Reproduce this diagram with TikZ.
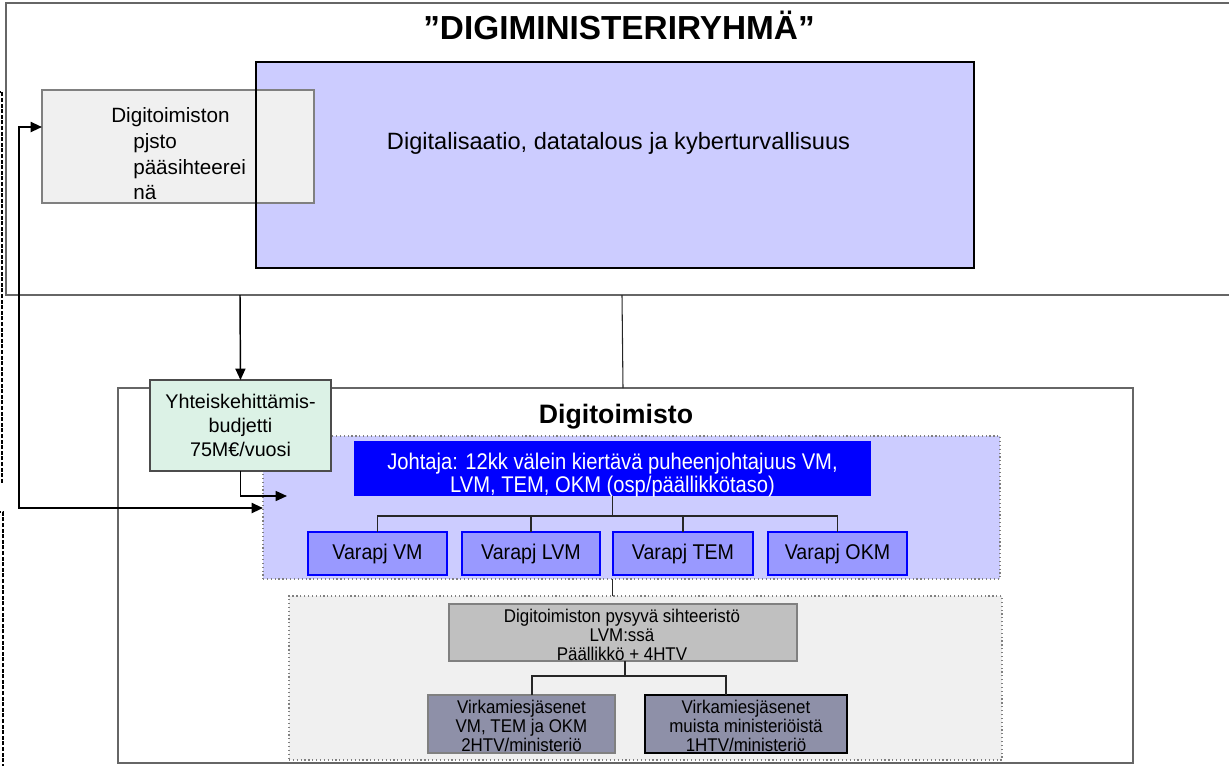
\documentclass[tikz,border=0pt]{standalone}
\usepackage{fontspec}
\setmainfont{Liberation Sans}
\newfontfamily\narrowa[FakeStretch=0.89]{Liberation Sans}
\newfontfamily\narrowb[FakeStretch=0.92]{Liberation Sans}
\usetikzlibrary{arrows.meta,calc,fit}
\definecolor{purp}{HTML}{CCCCFF}
\definecolor{lightgray}{HTML}{F0F0F0}
\definecolor{framegray}{HTML}{666666}
\definecolor{bordergray}{HTML}{808080}
\definecolor{mint}{HTML}{DCF2E6}
\definecolor{vblue}{HTML}{9999FF}
\definecolor{sihgray}{HTML}{C0C0C0}
\definecolor{slate}{HTML}{8E90A8}
\tikzset{
  fitbox/.style={inner sep=0pt, outer sep=0pt, rectangle},
  frame/.style={fitbox, draw=framegray, line width=1.5pt},
  arr/.style={-{Triangle[length=8.5pt,width=7.5pt]}, line width=1.1pt, black},
  arrboth/.style={{Triangle[length=8.5pt,width=7.5pt]}-{Triangle[length=8.5pt,width=7.5pt]}, line width=1.5pt, black},
  treeline/.style={line width=0.8pt, black!85},
  dotbox/.style={fitbox, draw=bordergray, dotted, line width=0.9pt},
  varbox/.style={fitbox, fill=vblue, draw=blue, line width=0.8pt, minimum height=32.25pt,
                 font=\narrowb\fontsize{16pt}{19pt}\selectfont},
  lowtext/.style={font=\narrowb\fontsize{13.8pt}{14.25pt}\selectfont, align=center},
  gbtext/.style={anchor=base west, inner sep=0pt, font=\fontsize{15.5pt}{18pt}\selectfont},
  dashedge/.style={draw=black, line width=1.2pt, dash pattern=on 3pt off 1.2pt}
}
\begin{document}
\begin{tikzpicture}[x=0.75pt,y=-0.75pt]
\useasboundingbox (0,0) rectangle (1229,765);
\clip (0,0) rectangle (1229,765);

% left dashed edges (boxes cut off at the left)
\draw[dashedge] (-40,92) rectangle (2,482);
\draw[dashedge] (-40,512) rectangle (3,820);

% top frame
\node[frame, fit={(6,3) (1240,295)}] (dmr) {};
\node[anchor=base, font=\bfseries\fontsize{25pt}{30pt}\selectfont] (title) at (619,39) {”DIGIMINISTERIRYHMÄ”};

% purple box and grey box
\node[fitbox, fill=purp, fit={(256,62) (974,268)}] (dk) {};
\node[anchor=base, font=\fontsize{17.7pt}{21pt}\selectfont] (dktext) at (618.5,149) {Digitalisaatio, datatalous ja kyberturvallisuus};
\node[fitbox, fill=lightgray, draw=bordergray, line width=0.8pt, fit={(42,90) (314,203)}] (gb) {};
\draw[line width=1.1pt] (dk.north west) rectangle (dk.south east);
\node[gbtext] (gb1) at (111,122) {Digitoimiston};
\node[gbtext] (gb2) at (133,148) {pjsto};
\node[gbtext] (gb3) at (133,174) {pääsihteerei};
\node[gbtext] (gb4) at (133,199) {nä};

% Digitoimisto frame
\node[frame, fit={(118,388) (1133,763)}] (dof) {};
\node[anchor=base, font=\bfseries\fontsize{20pt}{24pt}\selectfont] (doftitle) at (616,423) {Digitoimisto};

% leadership area
\node[dotbox, fill=purp, fit={(263,436) (1000,579)}] (pb) {};
\node[fitbox, fill=blue, fit={(354,441) (871,496)}] (bl) {};
\node[text=white, align=center, font=\narrowa\fontsize{17pt}{17.25pt}\selectfont] (bltext) at (612.5,475)
  {Johtaja: 12kk välein kiertävä puheenjohtajuus VM,\\LVM, TEM, OKM (osp/päällikkötaso)};

% budget box (drawn over the frames)
\node[fitbox, fill=mint, draw=black!70, line width=0.8pt, minimum width=135.75pt, minimum height=68.25pt,
      align=center, font=\fontsize{14.8pt}{18pt}\selectfont] (gr) at (240.5,425.5) {Yhteiskehittämis-\\budjetti\\75M€/vuosi};

\node[varbox, minimum width=104.25pt] (vm) at (377.5,553.5) {Varapj VM};
\node[varbox, minimum width=103.5pt] (lvm) at (531,553.5) {Varapj LVM};
\node[varbox, minimum width=105pt] (tem) at (683,553.5) {Varapj TEM};
\node[varbox, minimum width=104.25pt] (okm) at (837.5,553.5) {Varapj OKM};

\coordinate (j1) at (612.5,516);
\draw[treeline] (bl.south) -- (j1);
\draw[treeline] (vm.north) |- (j1) -| (okm.north);
\draw[treeline] (lvm.north) -- (lvm.north |- j1);
\draw[treeline] (tem.north) -- (tem.north |- j1);

% secretariat area
\node[dotbox, fill=lightgray, fit={(289,596) (1002,760)}] (lb) {};
\node[fitbox, fill=sihgray, draw=bordergray, line width=0.8pt, fit={(449,604) (797,661)}] (sih) {};
\node[lowtext] (sihtext) at (622,635) {Digitoimiston pysyvä sihteeristö\\LVM:ssä\\Päällikkö + 4HTV};
\node[fitbox, fill=slate, draw=bordergray, line width=0.8pt, fit={(428,695) (615,753)}] (vk1) {};
\node[lowtext] (vk1text) at (521.5,726) {Virkamiesjäsenet\\VM, TEM ja OKM\\2HTV/ministeriö};
\node[fitbox, fill=slate, draw=black, line width=1.5pt, fit={(645,695) (847,753)}] (vk2) {};
\node[lowtext] (vk2text) at (746,726) {Virkamiesjäsenet\\muista ministeriöistä\\1HTV/ministeriö};

\draw[treeline] (bl.south |- pb.south) -- (bl.south |- lb.north);
\coordinate (j2) at (625,676);
\coordinate (s1) at (532,695);
\coordinate (s2) at (726,695);
\draw[treeline] (sih.south -| j2) -- (j2);
\draw[treeline] (s1) |- (j2) -| (s2);

% connectors
\draw[line width=0.8pt, black!85] ($(dmr.south west)+(616,0)$) -- ($(dof.north west)+(505,0)$);
\draw[arr] ($(dmr.south west)+(234,0)$) -- (gr.north);
\coordinate (e1) at (287,496);
\draw[arr] (gr.south) |- (e1);
\draw[arrboth] (pb.west |- 0,508) -- (19,508) |- (gb.west |- 0,127);
\end{tikzpicture}
\end{document}
